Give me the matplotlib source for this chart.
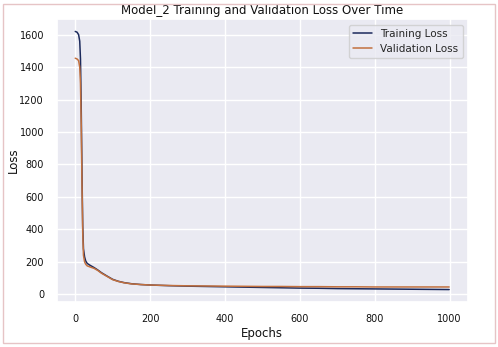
import matplotlib
matplotlib.use("Agg")
import matplotlib.pyplot as plt
import seaborn as sns
from matplotlib.patches import Rectangle

train_epochs = [0, 5, 9, 12, 14, 16, 18, 20, 22, 25, 28, 32, 40, 50, 60, 70, 85, 100, 115, 130, 150, 175, 200, 250, 300, 350, 400, 450, 500, 550, 600, 650, 700, 750, 800, 850, 900, 950, 999]
train_loss = [1620, 1615, 1600, 1560, 1450, 1150, 750, 420, 280, 230, 205, 190, 178, 165, 150, 133, 112, 92, 80, 72, 65, 60, 57, 53, 50, 48, 46, 44, 42, 40, 38, 37, 35, 34, 33, 32, 31, 30, 29]
val_epochs = [0, 5, 9, 12, 14, 16, 18, 20, 22, 25, 28, 32, 40, 50, 60, 70, 85, 100, 115, 130, 150, 175, 200, 250, 300, 350, 400, 450, 500, 550, 600, 650, 700, 750, 800, 850, 900, 950, 999]
val_loss = [1455, 1450, 1440, 1400, 1300, 1050, 680, 380, 240, 200, 185, 175, 168, 160, 147, 130, 110, 90, 79, 71, 64, 60, 57, 54, 52, 51, 50, 49, 48, 48, 47, 47, 46, 46, 45, 45, 45, 45, 45]

sns.set_theme(style="darkgrid")
plt.rcParams['font.family'] = ['DejaVu Sans']

fig = plt.figure(figsize=(4.98, 3.47), dpi=100)
fig.patch.set_facecolor('white')
ax = fig.add_axes([0.1135, 0.130, 0.826, 0.814])

ax.plot(train_epochs, train_loss, color='#1c2a5c', lw=1.1, label='Training Loss')
ax.plot(val_epochs, val_loss, color='#c2703e', lw=1.1, label='Validation Loss')

ax.set_title('Model_2 Training and Validation Loss Over Time', fontsize=8.5, pad=4, color='#111111')
ax.set_xlabel('Epochs', fontsize=8.5, labelpad=2, color='#111111')
ax.set_ylabel('Loss', fontsize=8.5, color='#111111')
ax.yaxis.set_label_coords(-0.089, 0.5)
ax.tick_params(labelsize=7, pad=3, labelcolor='#111111')
ax.set_xticks([0, 200, 400, 600, 800, 1000])
ax.set_yticks([0, 200, 400, 600, 800, 1000, 1200, 1400, 1600])
ax.set_xlim(-50, 1049)
ax.set_ylim(-47, 1694)
ax.legend(loc='upper right', fontsize=7.5, frameon=True, handlelength=1.8)

fig.add_artist(Rectangle((0.006, 0.012), 0.988, 0.976, transform=fig.transFigure,
                         fill=False, edgecolor='#e6c4c6', lw=1.0))

fig.savefig('out.png', dpi=100)
